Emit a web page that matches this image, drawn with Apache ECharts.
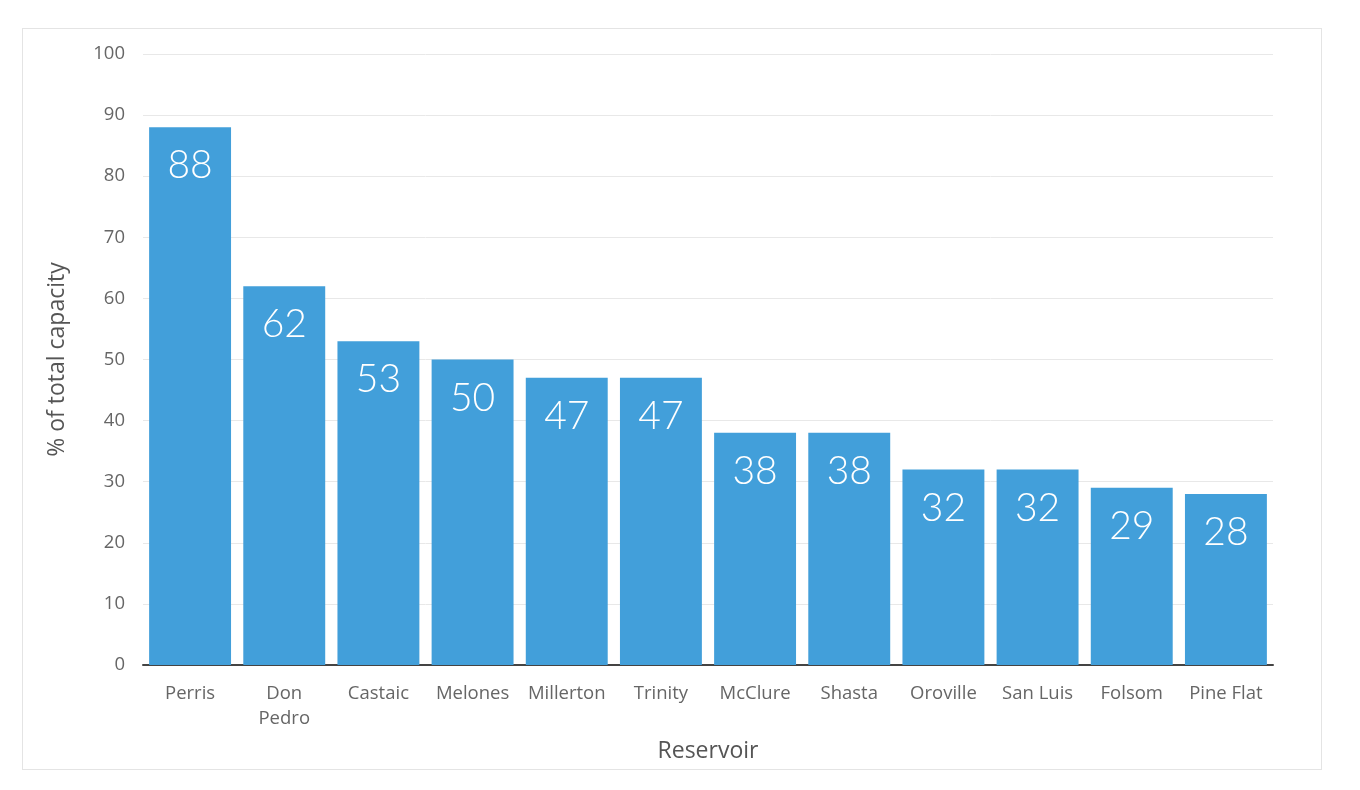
<!DOCTYPE html>
<html>
<head>
<meta charset="utf-8">
<script src="https://cdn.jsdelivr.net/npm/echarts@6/dist/echarts.min.js"></script>
<style>
html,body{margin:0;padding:0;background:#fff;}
#frame{position:absolute;left:22px;top:28px;width:1300px;height:742px;border:1px solid #e4e4e4;box-sizing:border-box;}
#chart{position:absolute;left:0;top:0;width:1360px;height:790px;}
</style>
</head>
<body>
<div id="frame"></div>
<div id="chart"></div>
<script>
const categories = ["Perris","Don\nPedro","Castaic","Melones","Millerton","Trinity","McClure","Shasta","Oroville","San Luis","Folsom","Pine Flat"];
const values = [88,62,53,50,47,47,38,38,32,32,29,28];
const yTicks = {min:0,max:100,interval:10};

const chart = echarts.init(document.getElementById('chart'));
chart.setOption({
  animation:false,
  grid:{left:143,right:87,top:54,bottom:125},
  xAxis:{
    type:'category',
    data:categories,
    name:'Reservoir',
    nameLocation:'middle',
    nameGap:75,
    nameTextStyle:{color:'#555',fontSize:23,fontFamily:'Open Sans'},
    axisLine:{lineStyle:{color:'#444',width:2}},
    axisTick:{show:false},
    axisLabel:{color:'#666',fontSize:18.5,fontFamily:'Open Sans',margin:16,lineHeight:25,interval:0}
  },
  yAxis:{
    type:'value',
    min:yTicks.min,max:yTicks.max,interval:yTicks.interval,
    name:'% of total capacity',
    nameLocation:'middle',
    nameGap:74,
    nameTextStyle:{color:'#555',fontSize:23,fontFamily:'Open Sans'},
    axisLine:{show:false},
    axisTick:{show:false},
    axisLabel:{color:'#666',fontSize:18.5,fontFamily:'Open Sans',margin:18},
    splitLine:{lineStyle:{color:'#e8e8e8',width:1}}
  },
  series:[{
    type:'bar',
    data:values,
    barCategoryGap:'13%',
    itemStyle:{color:'#429fda'},
    label:{show:true,position:'insideTop',distance:19,color:'#fff',fontSize:39,fontWeight:300,fontFamily:'Lato'}
  }]
});
</script>
</body>
</html>
